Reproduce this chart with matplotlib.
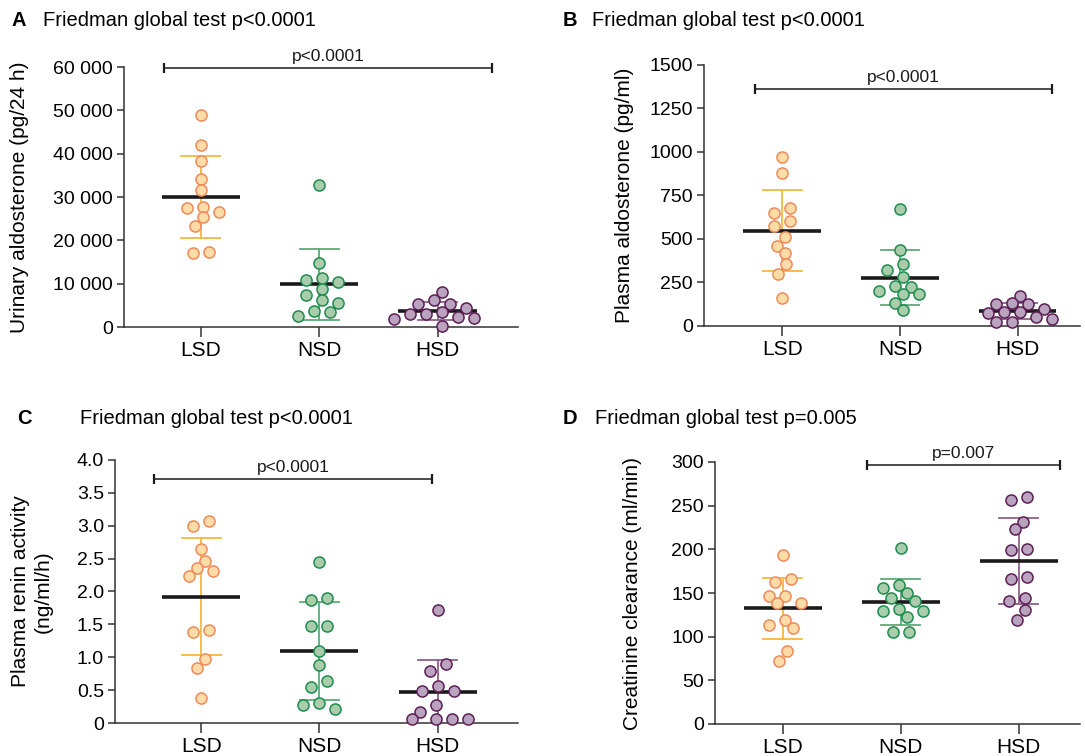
import numpy as np
import matplotlib
matplotlib.use('Agg')
from matplotlib import pyplot as plt
from matplotlib.ticker import FuncFormatter

#%% Data (12 subjects per diet)

groups = ['LSD', 'NSD', 'HSD']

urinary_lsd = [48900, 42000, 38200, 34100, 31600, 27800, 27400, 26600, 25300, 23300, 17400, 17100]
urinary_nsd = [32800, 14700, 11200, 10900, 10500, 8700, 7400, 6200, 5600, 3800, 3500, 2500]
urinary_hsd = [8000, 6200, 5200, 5200, 4300, 3400, 3100, 3000, 2400, 2100, 1800, 300]

plasma_lsd = [970, 880, 675, 645, 600, 575, 510, 460, 420, 355, 300, 160]
plasma_nsd = [670, 435, 355, 320, 280, 230, 225, 200, 185, 185, 130, 90]
plasma_hsd = [170, 130, 125, 125, 95, 80, 77, 75, 48, 40, 20, 20]

renin_lsd = [3.07, 2.99, 2.64, 2.46, 2.35, 2.31, 2.23, 1.41, 1.39, 0.98, 0.84, 0.38]
renin_nsd = [2.45, 1.90, 1.87, 1.47, 1.47, 1.10, 0.88, 0.64, 0.54, 0.31, 0.28, 0.21]
renin_hsd = [1.72, 0.89, 0.79, 0.56, 0.49, 0.49, 0.27, 0.17, 0.06, 0.06, 0.06, 0.06]

creat_lsd = [193, 166, 163, 146, 146, 139, 138, 119, 113, 110, 84, 72]
creat_nsd = [201, 159, 156, 150, 144, 141, 132, 129, 129, 123, 105, 105]
creat_hsd = [260, 257, 231, 223, 200, 199, 168, 166, 144, 141, 131, 119]

titles = ['Friedman global test p<0.0001', 'Friedman global test p<0.0001',
          'Friedman global test p<0.0001', 'Friedman global test p=0.005']
letters = ['A', 'B', 'C', 'D']
ylabels = ['Urinary aldosterone (pg/24 h)', 'Plasma aldosterone (pg/ml)',
           'Plasma renin activity\n(ng/ml/h)', 'Creatinine clearance (ml/min)']
# pairwise comparison bracket: (from, to, level, text)
brackets = [(-0.31, 2.46, 59800, 'p<0.0001'),
            (-0.23, 2.29, 1360, 'p<0.0001'),
            (-0.40, 1.95, 3.71, 'p<0.0001'),
            (0.71, 2.35, 296, 'p=0.007')]

#%% Style

plt.rcParams['font.family'] = ['Liberation Sans', 'DejaVu Sans']
face = ['#FDDCA8', '#A9CDAA', '#B9A3BE']
edge = ['#EE8A5A', '#1E8C4E', '#5C1E55']
errc = ['#F6B83A', '#5DAA78', '#8E6189']
W, H = 1085, 756

fig = plt.figure(figsize=(W / 100, H / 100), dpi=100)

# axes rectangles in pixels: left spine x, right end x, top y, bottom y
rects = [(124, 518, 67, 327), (704, 1080, 64.7, 325.7),
         (115, 518, 459.8, 723), (715, 1080, 462, 724)]
xlims = [(-0.65, 2.68), (-0.665, 2.53), (-0.73, 2.68), (-0.575, 2.52)]
ylims = [(0, 60000), (0, 1500), (0, 4.0), (0, 300)]
ysteps = [10000, 250, 0.5, 50]
data = [[urinary_lsd, urinary_nsd, urinary_hsd],
        [plasma_lsd, plasma_nsd, plasma_hsd],
        [renin_lsd, renin_nsd, renin_hsd],
        [creat_lsd, creat_nsd, creat_hsd]]
formatters = [FuncFormatter(lambda v, p: f'{int(round(v)):,}'.replace(',', ' ')),
              FuncFormatter(lambda v, p: f'{int(round(v))}'),
              FuncFormatter(lambda v, p: '0' if v == 0 else f'{v:.1f}'),
              FuncFormatter(lambda v, p: f'{int(round(v))}')]
title_xy = [(12, 43, 20), (563, 592, 20), (17, 80, 418), (563, 595, 418)]
ylabel_x = [20, 625, 32, 632]


def swarm(vals, ylim, h_px, step=8.0, dmin=10.5):
    """Beeswarm offsets (pixels) on a grid, then centre each touching cluster."""
    ypx = (np.asarray(vals) - ylim[0]) / (ylim[1] - ylim[0]) * h_px
    cands = [0.0]
    for k in range(1, 10):
        cands += [-k * step, k * step]
    placed = []
    offs = np.zeros(len(ypx))
    order = np.argsort(-ypx)
    for i in order:
        for c in cands:
            if all((c - px) ** 2 + (ypx[i] - py) ** 2 >= dmin ** 2 for px, py in placed):
                break
        offs[i] = c
        placed.append((c, ypx[i]))
    # clusters: chains of points closer than dmin vertically
    cluster = [order[0]]
    for a, b in zip(order[:-1], order[1:]):
        if ypx[a] - ypx[b] < dmin:
            cluster.append(b)
        else:
            offs[cluster] -= offs[cluster].mean()
            cluster = [b]
    offs[cluster] -= offs[cluster].mean()
    return offs


for k in range(4):
    x0, x1, y0, y1 = rects[k]
    ax = fig.add_axes([x0 / W, 1 - y1 / H, (x1 - x0) / W, (y1 - y0) / H])
    ax.set_xlim(*xlims[k])
    ax.set_ylim(*ylims[k])
    w_px, h_px = x1 - x0, y1 - y0
    px_per_unit = w_px / (xlims[k][1] - xlims[k][0])

    for g in range(3):
        vals = np.array(data[k][g], dtype=float)
        m, sd = vals.mean(), vals.std(ddof=1)
        lo = max(m - sd, ylims[k][0])
        ax.plot([g, g], [lo, m + sd], color=errc[g], lw=1.3, zorder=2)
        ax.plot([g - 0.165, g + 0.165], [m + sd, m + sd], color=errc[g], lw=1.3, zorder=2)
        if m - sd > ylims[k][0]:
            ax.plot([g - 0.165, g + 0.165], [m - sd, m - sd], color=errc[g], lw=1.3, zorder=2)
        ax.plot([g - 0.33, g + 0.33], [m, m], color='#1a1a1a', lw=2.6, zorder=3,
                solid_capstyle='butt')
        offs = swarm(vals, ylims[k], h_px) / px_per_unit
        ax.plot(g + offs, vals, 'o', ms=8, mfc=face[g], mec=edge[g], mew=1.1,
                ls='none', zorder=4, clip_on=False)

    b0, b1, by, btxt = brackets[k]
    ax.plot([b0, b1], [by, by], color='#1a1a1a', lw=1.1, marker='|', ms=7, mew=1.6,
            clip_on=False)
    ax.annotate(btxt, xy=((b0 + b1) / 2, by), xytext=(0, 3), textcoords='offset points',
                ha='center', va='bottom', fontsize=12.5, color='#1a1a1a',
                annotation_clip=False)

    ax.set_yticks(np.arange(ylims[k][0], ylims[k][1] + ysteps[k] / 2, ysteps[k]))
    ax.yaxis.set_major_formatter(formatters[k])
    ax.set_xticks(range(3))
    ax.set_xticklabels(groups, fontsize=15)
    ax.tick_params(axis='y', labelsize=14, length=5, width=1.1, color='#333333', pad=3)
    ax.tick_params(axis='x', length=7, width=1.1, color='#333333', pad=3)
    for s in ['top', 'right']:
        ax.spines[s].set_visible(False)
    for s in ['left', 'bottom']:
        ax.spines[s].set_linewidth(1.1)
        ax.spines[s].set_color('#333333')

    lx, tx, ty = title_xy[k]
    fig.text(lx / W, 1 - ty / H, letters[k], fontsize=14.5, fontweight='bold',
             va='center', ha='left')
    fig.text(tx / W, 1 - ty / H, titles[k], fontsize=14.5, va='center', ha='left')
    fig.text(ylabel_x[k] / W, 1 - (y0 + y1) / 2 / H, ylabels[k], fontsize=15,
             rotation=90, va='center', ha='center', linespacing=1.3)

plt.savefig('out.png', dpi=100)
